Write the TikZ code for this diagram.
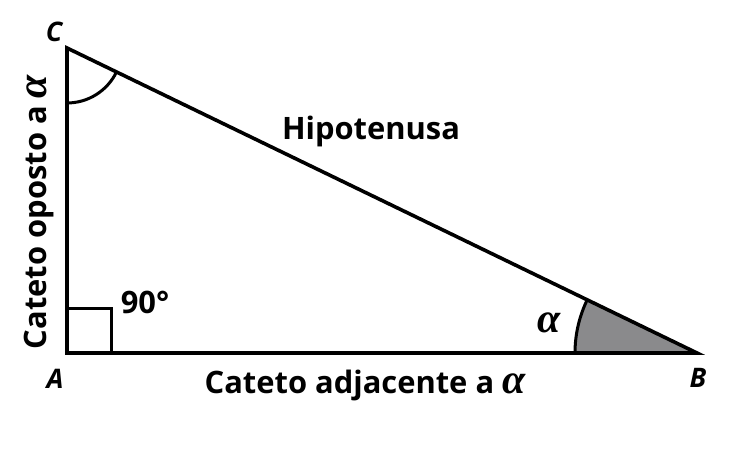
\documentclass[tikz,border=0pt]{standalone}
\usepackage{fontspec}
\setmainfont{Open Sans}
\newfontfamily\grk{Liberation Serif}
\definecolor{anglegray}{RGB}{138,138,140}

\begin{document}
\begin{tikzpicture}[x=1bp,y=1bp,line join=miter,
  side/.style={line width=3.6bp},
  mark line/.style={line width=3bp},
  text node/.style={inner sep=0pt,font=\bfseries\fontsize{31}{34}\selectfont},
  vertex node/.style={inner sep=0pt,font=\bfseries\itshape\fontsize{27}{30}\selectfont},
  greek/.style={font=\grk\bfseries\itshape\fontsize{42}{42}\selectfont}]
  \useasboundingbox (0,0) rectangle (750,452);
  \coordinate (A) at (67,99);
  \coordinate (B) at (697,99);
  \coordinate (C) at (67,404);

  % angle at B
  \fill[anglegray] (B) -- ++(180:122) arc[start angle=180,end angle=154.17,radius=122] -- cycle;
  \draw[mark line] ([shift={(180:122)}]B) arc[start angle=180,end angle=154.17,radius=122];
  % angle at C
  \draw[mark line] ([shift={(270:55)}]C) arc[start angle=270,end angle=334.17,radius=55];
  % right angle
  \draw[mark line] (A) rectangle ++(44,44);

  \draw[side] (A) -- (B) -- (C) -- cycle;

  \node[vertex node] (lblC) at (54,420) {C};
  \node[vertex node] (lblA) at (55,73) {A};
  \node[vertex node] (lblB) at (698,74) {B};
  \node[text node] (ang) at (145,150) {90°};
  \node[inner sep=0pt,greek] (alpha) at (549,129) {α};
  \node[text node] (hyp) at (371,321) {Hipotenusa};
  \node[text node] (adj) at (365,67) {Cateto adjacente a {\grk\bfseries\itshape\fontsize{42}{42}\selectfont α}};
  \node[text node,rotate=90] (opp) at (39,240) {Cateto oposto a {\grk\bfseries\itshape\fontsize{42}{42}\selectfont α}};
\end{tikzpicture}
\end{document}
